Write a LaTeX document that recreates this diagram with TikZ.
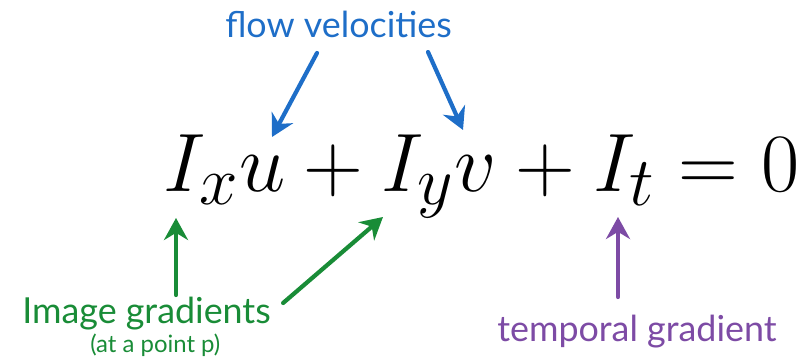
\documentclass[tikz,border=0pt]{standalone}
\usepackage{amsmath}
\usepackage{graphicx}
\usepackage{fontspec}
\setmainfont{Lato}
\usepackage{tikz}
\usetikzlibrary{arrows.meta, positioning}

\definecolor{flowblue}{RGB}{30,110,200}
\definecolor{gradgreen}{RGB}{25,140,55}
\definecolor{temppurple}{RGB}{125,75,165}

\begin{document}
\begin{tikzpicture}[
    x=0.025cm, y=-0.025cm,
    label/.style={inner sep=0pt, anchor=base west, font=\fontsize{25.5}{28}\selectfont},
    pointer/.style={-{Stealth[length=5.5mm, width=6mm]}, line width=3pt, line cap=round}
]
    \useasboundingbox (0,0) rectangle (802,359);

    % Equation
    \node[inner sep=0pt, anchor=base west, font=\Huge] (eq) at (163,192) {\scalebox{2.37}{$I_x u + I_y v + I_t = 0$}};

    % Labels
    \node[label, text=flowblue] (flow) at (225,38) {flow velocities};
    \node[label, text=gradgreen] (imgrad) at (22,324) {Image gradients};
    \node[inner sep=0pt, anchor=base west, font=\fontsize{17}{19}\selectfont, text=gradgreen] (point) at (90,353) {(at a point p)};
    \node[label, text=temppurple] (temporal) at (497,342) {temporal gradient};

    % Arrow ends
    \coordinate (u) at (272,137);
    \coordinate (v) at (463,130);
    \coordinate (Ix) at (176,218);
    \coordinate (Iy) at (383,217);
    \coordinate (It) at (618,217);

    % Pointers
    \draw[pointer, flowblue] (flow.base west) ++(92,15) -- (u);
    \draw[pointer, flowblue] (flow.base west) ++(203,14) -- (v);
    \draw[pointer, gradgreen] (imgrad.base west) ++(154,-29) -- (Ix);
    \draw[pointer, gradgreen] (imgrad.base east) ++(12,-21) -- (Iy);
    \draw[pointer, temppurple] (temporal.base west) ++(121,-45) -- (It);
\end{tikzpicture}
\end{document}
